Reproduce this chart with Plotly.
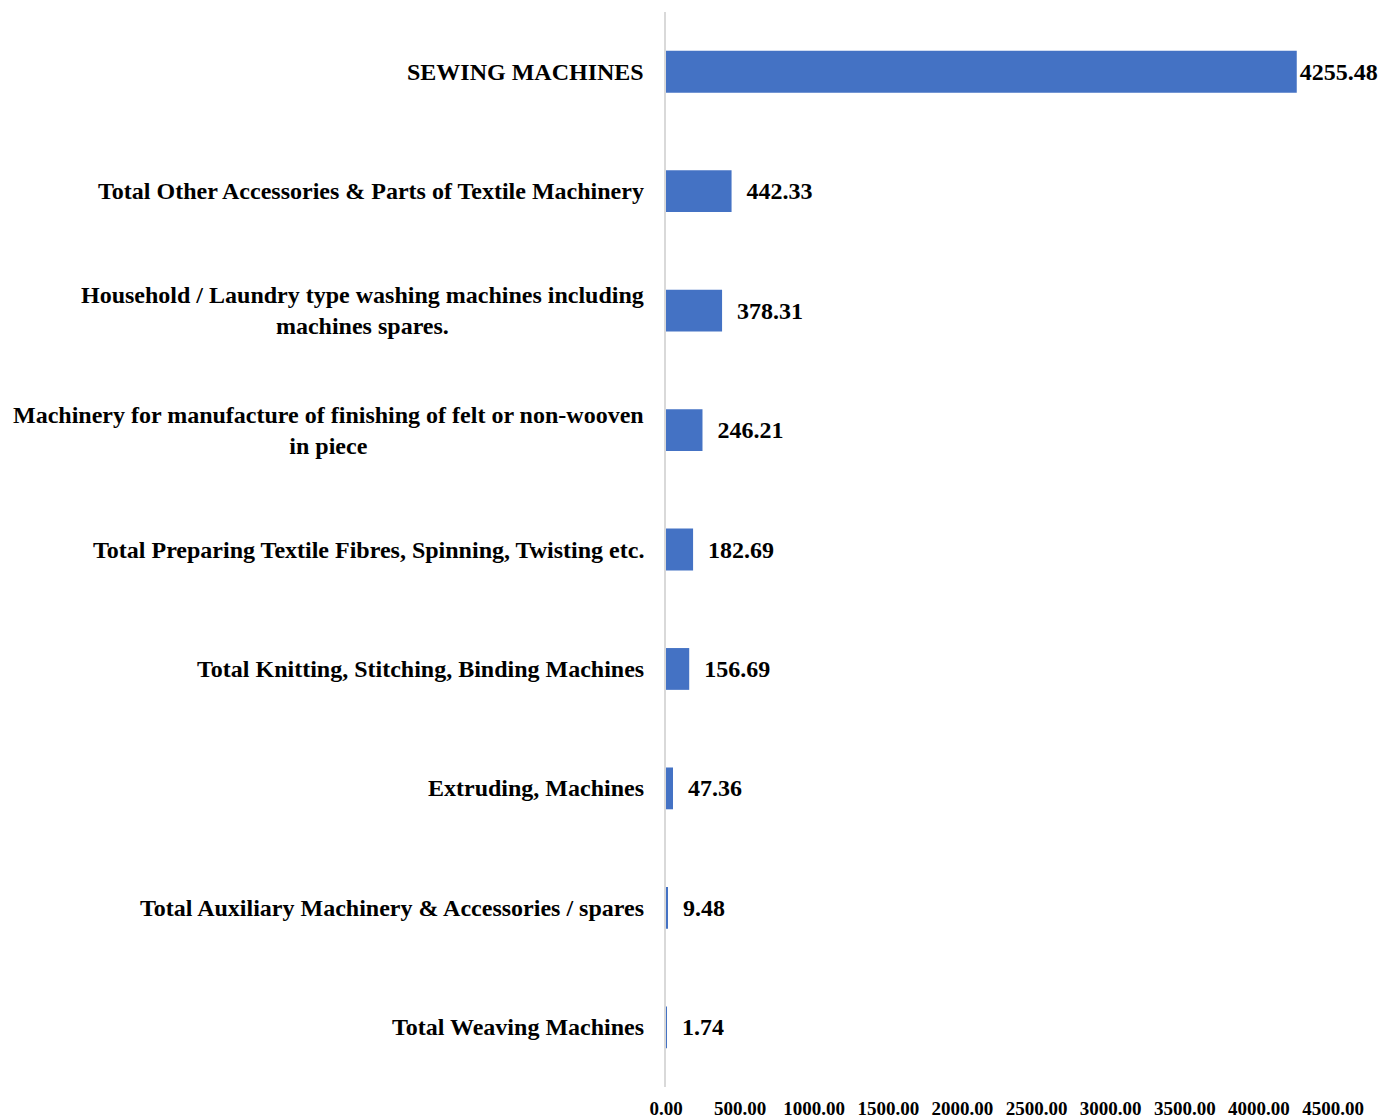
import plotly.graph_objects as go

categories = [
    "SEWING MACHINES",
    "Total Other Accessories & Parts of Textile Machinery",
    "Household / Laundry type washing machines including<br>machines spares.",
    "Machinery for manufacture of finishing of felt or non-wooven<br>in piece",
    "Total Preparing Textile Fibres, Spinning, Twisting etc.",
    "Total Knitting, Stitching, Binding Machines",
    "Extruding, Machines",
    "Total Auxiliary Machinery & Accessories / spares",
    "Total Weaving Machines",
]
values = [4255.48, 442.33, 378.31, 246.21, 182.69, 156.69, 47.36, 9.48, 1.74]

FONT = "Liberation Serif, Times New Roman, serif"

# the longest bar's label sits closer so it stays on the page
templates = ["%{x:.2f}"] + ["  %{x:.2f}"] * (len(values) - 1)

fig = go.Figure(
    go.Bar(
        x=values,
        y=list(range(len(categories))),
        orientation="h",
        marker=dict(color="#4472C4", line=dict(width=0)),
        texttemplate=templates,
        textposition="outside",
        constraintext="none",
        cliponaxis=False,
        textfont=dict(family=FONT, size=24, color="black", weight="bold"),
        hoverinfo="skip",
    )
)

# category labels as annotations so wrapped lines stay centred
for i, c in enumerate(categories):
    fig.add_annotation(
        x=0, xref="paper", xanchor="right", xshift=-20,
        y=i, yref="y", yanchor="middle",
        text=c, showarrow=False, align="center",
        font=dict(family=FONT, size=24, color="black", weight="bold"),
    )

fig.update_layout(
    width=1373,
    height=1110,
    margin=dict(l=658, r=48, t=4, b=31),
    plot_bgcolor="white",
    paper_bgcolor="white",
    bargap=0.65,
    showlegend=False,
    xaxis=dict(
        range=[0, 4500],
        dtick=500,
        tickformat=".2f",
        showgrid=False,
        zeroline=False,
        showline=False,
        ticks="",
        automargin=False,
        ticklabelstandoff=8,
        tickfont=dict(family=FONT, size=19, color="black", weight="bold"),
    ),
    yaxis=dict(
        range=[len(categories) - 0.5, -0.5],
        showticklabels=False,
        showgrid=False,
        zeroline=False,
        showline=True,
        linecolor="#D9D9D9",
        linewidth=2,
        ticks="",
    ),
)

fig.write_html("out.html")
